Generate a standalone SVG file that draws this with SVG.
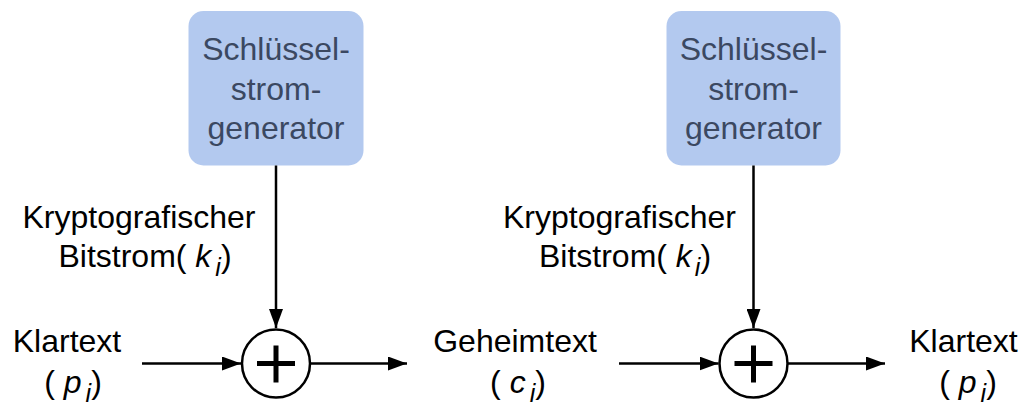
<svg xmlns="http://www.w3.org/2000/svg" width="1026" height="407" viewBox="0 0 1026 407">
<style>
  text { font-family: "Liberation Sans", Arial, Helvetica, sans-serif; font-size: 32px; fill: #000; text-anchor: middle; }
  .box { fill: #b3c9ef; stroke: none; }
  .boxtxt { fill: #3b4861; }
  .line { stroke: #000; stroke-width: 2.5; fill: none; }
  .xor { fill: #fff; stroke: #000; stroke-width: 2.5; }
  .plus { stroke: #000; stroke-width: 5; fill: none; }
  .it { font-style: italic; }
  .sub { font-style: italic; font-size: 25px; }
</style>
<defs>
  <marker id="arrow" markerUnits="userSpaceOnUse" markerWidth="19" markerHeight="14" refX="19" refY="7" orient="auto">
    <path d="M0,0 L19,7 L0,14 z" fill="#000"/>
  </marker>
</defs>

<g id="gen1">
  <rect class="box" x="188.5" y="11" width="175" height="154.5" rx="15" ry="15"/>
  <text class="boxtxt" x="276" y="60">Schlüssel-</text>
  <text class="boxtxt" x="276" y="99.5">strom-</text>
  <text class="boxtxt" x="276" y="138.5">generator</text>
</g>
<g id="gen2">
  <rect class="box" x="666.5" y="11" width="174" height="154.5" rx="15" ry="15"/>
  <text class="boxtxt" x="753.5" y="60">Schlüssel-</text>
  <text class="boxtxt" x="753.5" y="99.5">strom-</text>
  <text class="boxtxt" x="753.5" y="138.5">generator</text>
</g>

<g id="xor1">
  <circle class="xor" cx="276" cy="363.5" r="34"/>
  <path class="plus" d="M257,363.5 H295 M276,345.5 V382.5"/>
</g>
<g id="xor2">
  <circle class="xor" cx="753.5" cy="363.5" r="34"/>
  <path class="plus" d="M734.5,363.5 H772.5 M753.5,345.5 V382.5"/>
</g>

<g id="label-plain1">
  <text x="67" y="352">Klartext</text>
  <text x="73" y="393">( <tspan class="it">p</tspan><tspan class="sub" dx="4" dy="9">i</tspan><tspan dy="-9">)</tspan></text>
</g>
<g id="label-key1">
  <text x="139" y="228">Kryptografischer</text>
  <text x="145" y="267">Bitstrom( <tspan class="it">k</tspan><tspan class="sub" dx="4" dy="9">i</tspan><tspan dy="-9">)</tspan></text>
</g>
<g id="label-cipher">
  <text x="515" y="352">Geheimtext</text>
  <text x="518" y="393">( <tspan class="it">c</tspan><tspan class="sub" dx="4" dy="9">i</tspan><tspan dy="-9">)</tspan></text>
</g>
<g id="label-key2">
  <text x="619.5" y="228">Kryptografischer</text>
  <text x="625" y="267">Bitstrom( <tspan class="it">k</tspan><tspan class="sub" dx="3" dy="9">i</tspan><tspan dy="-9">)</tspan></text>
</g>
<g id="label-plain2">
  <text x="963.5" y="352">Klartext</text>
  <text x="968" y="393">( <tspan class="it">p</tspan><tspan class="sub" dx="4" dy="9">i</tspan><tspan dy="-9">)</tspan></text>
</g>

<g id="connectors">
  <line class="line" x1="276" y1="165.5" x2="276" y2="328" marker-end="url(#arrow)"/>
  <line class="line" x1="142" y1="363.5" x2="241" y2="363.5" marker-end="url(#arrow)"/>
  <line class="line" x1="310" y1="363.5" x2="407" y2="363.5" marker-end="url(#arrow)"/>
  <line class="line" x1="753.5" y1="165.5" x2="753.5" y2="328" marker-end="url(#arrow)"/>
  <line class="line" x1="619" y1="363.5" x2="718.5" y2="363.5" marker-end="url(#arrow)"/>
  <line class="line" x1="787.5" y1="363.5" x2="885" y2="363.5" marker-end="url(#arrow)"/>
</g>
</svg>
